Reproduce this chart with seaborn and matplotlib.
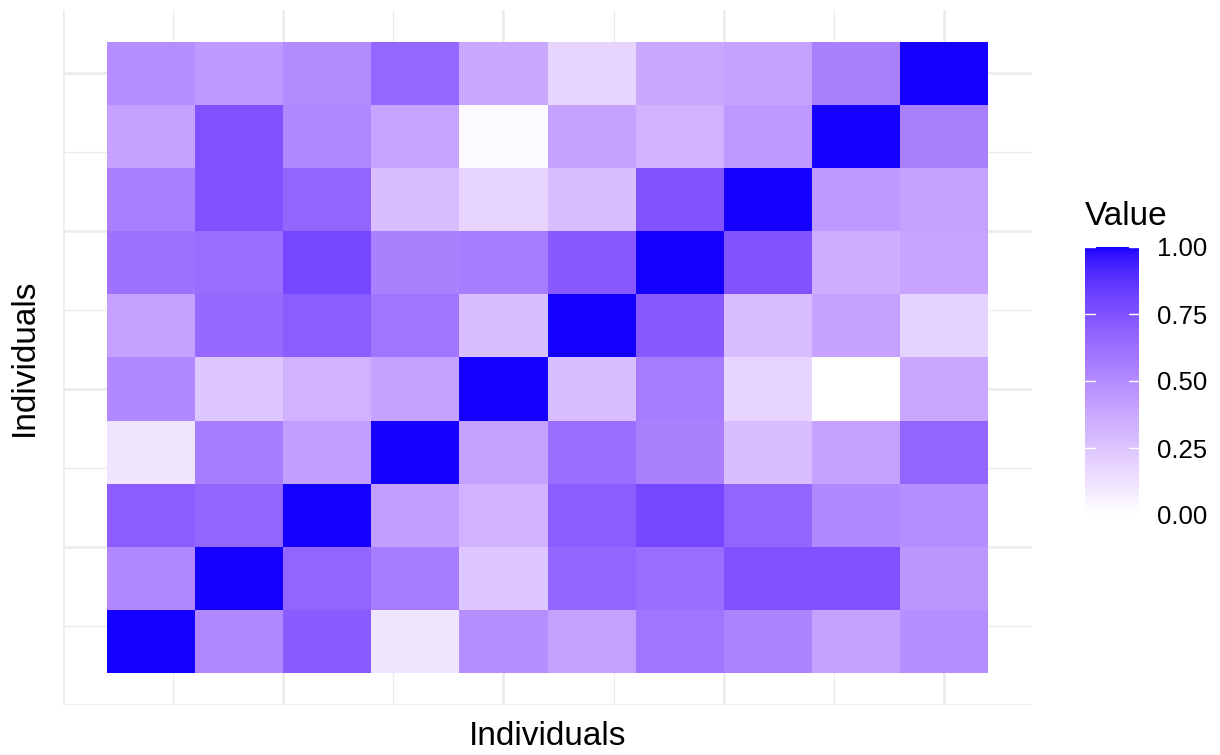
import numpy as np
import matplotlib
matplotlib.use("Agg")
import matplotlib.pyplot as plt
from matplotlib.colors import ListedColormap, to_rgb
import seaborn as sns

# Individual labels (rows listed bottom to top, columns left to right)
individuals = [f"Ind{i}" for i in range(1, 11)]

# Pairwise similarity values; row k is individual k (bottom row first)
row_1 = [1.00, 0.52, 0.71, 0.11, 0.49, 0.41, 0.60, 0.54, 0.40, 0.49]
row_2 = [0.52, 1.00, 0.67, 0.57, 0.24, 0.67, 0.635, 0.75, 0.75, 0.45]
row_3 = [0.70, 0.67, 1.00, 0.42, 0.33, 0.70, 0.79, 0.67, 0.515, 0.49]
row_4 = [0.11, 0.57, 0.42, 1.00, 0.41, 0.63, 0.55, 0.28, 0.40, 0.67]
row_5 = [0.515, 0.24, 0.33, 0.40, 1.00, 0.28, 0.57, 0.18, 0.00, 0.375]
row_6 = [0.41, 0.65, 0.70, 0.60, 0.28, 1.00, 0.72, 0.28, 0.40, 0.19]
row_7 = [0.615, 0.635, 0.79, 0.55, 0.57, 0.72, 1.00, 0.745, 0.35, 0.39]
row_8 = [0.555, 0.75, 0.67, 0.28, 0.18, 0.28, 0.745, 1.00, 0.44, 0.41]
row_9 = [0.40, 0.75, 0.515, 0.39, 0.02, 0.40, 0.33, 0.44, 1.00, 0.55]
row_10 = [0.49, 0.44, 0.50, 0.66, 0.375, 0.18, 0.375, 0.40, 0.55, 1.00]

rows_bottom_up = [row_1, row_2, row_3, row_4, row_5,
                  row_6, row_7, row_8, row_9, row_10]

legend_ticks = [0.00, 0.25, 0.50, 0.75, 1.00]


def _srgb_to_lab(rgb):
    rgb = np.asarray(rgb, dtype=float)
    lin = np.where(rgb <= 0.04045, rgb / 12.92, ((rgb + 0.055) / 1.055) ** 2.4)
    m = np.array([[0.4124, 0.3576, 0.1805],
                  [0.2126, 0.7152, 0.0722],
                  [0.0193, 0.1192, 0.9505]])
    xyz = m @ lin
    white = np.array([0.95047, 1.0, 1.08883])
    t = xyz / white
    f = np.where(t > (6 / 29) ** 3, np.cbrt(t), t / (3 * (6 / 29) ** 2) + 4 / 29)
    return np.array([116 * f[1] - 16, 500 * (f[0] - f[1]), 200 * (f[1] - f[2])])


def _lab_to_srgb(lab):
    L, a, b = lab
    fy = (L + 16) / 116
    fx = fy + a / 500
    fz = fy - b / 200
    f = np.array([fx, fy, fz])
    t = np.where(f > 6 / 29, f ** 3, 3 * (6 / 29) ** 2 * (f - 4 / 29))
    xyz = t * np.array([0.95047, 1.0, 1.08883])
    m = np.array([[3.2406, -1.5372, -0.4986],
                  [-0.9689, 1.8758, 0.0415],
                  [0.0557, -0.2040, 1.0570]])
    lin = np.clip(m @ xyz, 0, 1)
    rgb = np.where(lin <= 0.0031308, 12.92 * lin, 1.055 * lin ** (1 / 2.4) - 0.055)
    return np.clip(rgb, 0, 1)


def lab_gradient(low, high, n=256):
    lo = _srgb_to_lab(to_rgb(low))
    hi = _srgb_to_lab(to_rgb(high))
    return ListedColormap([_lab_to_srgb(lo + (hi - lo) * s)
                           for s in np.linspace(0, 1, n)])


cmap = lab_gradient("#FFFFFF", "#1400FF")

# seaborn draws the first row at the top, so flip to put individual 1 at the bottom
matrix = np.array(rows_bottom_up)[::-1]

sns.set_theme(style="white")
plt.rcParams["font.family"] = ["Liberation Sans", "DejaVu Sans"]
plt.rcParams["text.color"] = "black"

fig = plt.figure(figsize=(12.2, 7.55), dpi=100)
ax = fig.add_axes([63 / 1220, 50 / 755, 969 / 1220, 695 / 755])
cax = fig.add_axes([1085 / 1220, 240 / 755, 54 / 1220, 268 / 755])

sns.heatmap(matrix, ax=ax, cmap=cmap, vmin=0, vmax=1, cbar_ax=cax,
            linewidths=0, xticklabels=False, yticklabels=False,
            cbar_kws={"ticks": legend_ticks})

# panel with a little expansion around the tiles
ax.set_xlim(-0.5, 10.5)
ax.set_ylim(10.5, -0.5)

grid_major = [-0.5, 2.0, 4.5, 7.0, 9.5]
grid_minor = [0.75, 3.25, 5.75, 8.25]
ax.set_xticks(grid_major)
ax.set_xticks(grid_minor, minor=True)
ax.set_yticks([10 - g for g in grid_major])
ax.set_yticks([10 - g for g in grid_minor], minor=True)
ax.set_xticklabels([])
ax.set_yticklabels([])
ax.tick_params(which="both", length=0)
ax.set_axisbelow(True)
ax.grid(which="major", color="#EBEBEB", linewidth=1.8)
ax.grid(which="minor", color="#EBEBEB", linewidth=0.9)
for sp in ax.spines.values():
    sp.set_visible(False)

ax.set_xlabel("Individuals", fontsize=24, color="black")
ax.set_ylabel("Individuals", fontsize=24, color="black")
ax.xaxis.set_label_coords(0.5, -0.023)
ax.yaxis.set_label_coords(-0.024, 0.5)

# colour legend
cbar = ax.collections[0].colorbar
cbar.outline.set_visible(False)
cax.tick_params(length=0, labelsize=18.5, pad=13, colors="black")
cax.set_yticklabels([f"{t:.2f}" for t in legend_ticks])
for t in legend_ticks:
    cax.plot([0, 0.18], [t, t], color="white", lw=1.0, transform=cax.get_yaxis_transform())
    cax.plot([0.82, 1.0], [t, t], color="white", lw=1.0, transform=cax.get_yaxis_transform())
cax.set_title("Value", loc="left", fontsize=24, pad=16, color="black")

fig.savefig("out.png", dpi=100, facecolor="white")
